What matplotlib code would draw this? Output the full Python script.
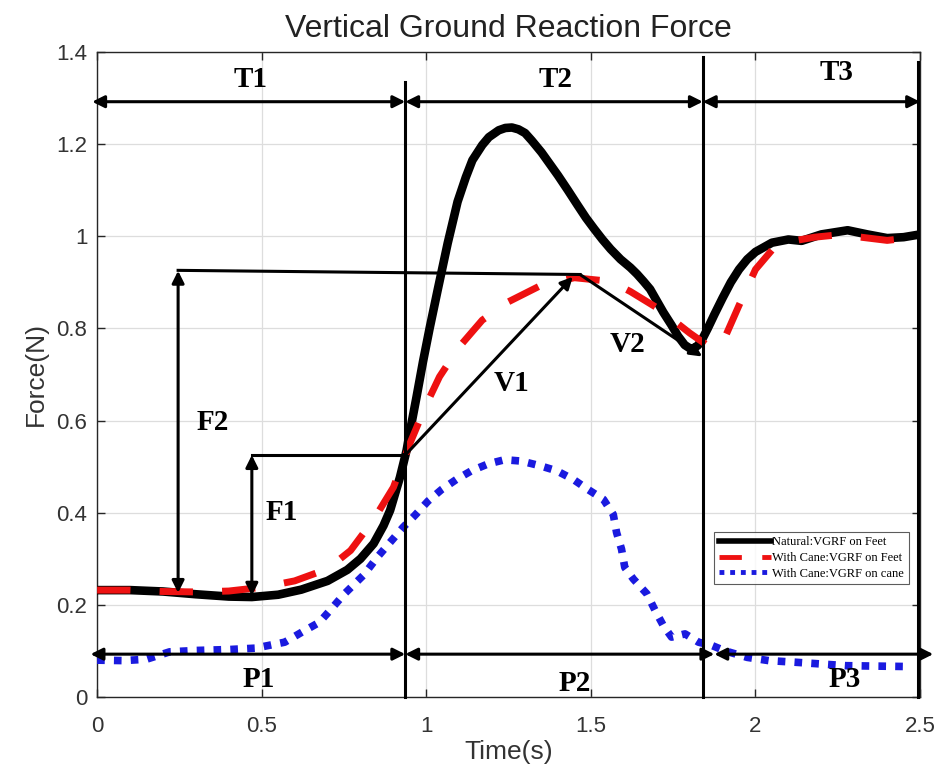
import matplotlib
matplotlib.use("Agg")
import matplotlib.pyplot as plt
from matplotlib.lines import Line2D

# ---------------- data ----------------
t_nat = [0.00, 0.10, 0.20, 0.30, 0.40, 0.47, 0.55, 0.62, 0.70, 0.76, 0.80, 0.84,
         0.87, 0.89, 0.92, 0.94, 0.95, 0.97, 0.99, 1.01, 1.035, 1.065, 1.095, 1.12,
         1.14, 1.17, 1.19, 1.22, 1.24, 1.26, 1.28, 1.30, 1.32, 1.35, 1.375, 1.40,
         1.43, 1.46, 1.485, 1.51, 1.535, 1.56, 1.59, 1.62, 1.64, 1.66, 1.68, 1.70,
         1.72, 1.745, 1.765, 1.785, 1.80, 1.81, 1.825, 1.84, 1.855, 1.875, 1.90, 1.925,
         1.95, 1.975, 2.00, 2.05, 2.10, 2.14, 2.20, 2.28, 2.34, 2.40, 2.45, 2.50]
f_nat = [0.232, 0.232, 0.229, 0.223, 0.218, 0.217, 0.222, 0.233, 0.252, 0.276, 0.300, 0.333,
         0.372, 0.405, 0.477, 0.535, 0.575, 0.650, 0.728, 0.800, 0.885, 0.985, 1.075, 1.128,
         1.165, 1.198, 1.215, 1.230, 1.235, 1.236, 1.232, 1.224, 1.208, 1.182, 1.157, 1.132,
         1.100, 1.067, 1.040, 1.016, 0.993, 0.972, 0.950, 0.932, 0.918, 0.902, 0.885, 0.860,
         0.835, 0.807, 0.783, 0.764, 0.757, 0.756, 0.763, 0.779, 0.800, 0.830, 0.866, 0.900,
         0.928, 0.950, 0.966, 0.986, 0.993, 0.990, 1.004, 1.013, 1.004, 0.996, 0.998, 1.004]

t_cane_feet = [0.00, 0.10, 0.20, 0.30, 0.40, 0.50, 0.60, 0.70, 0.77, 0.84, 0.90, 0.95,
               1.00, 1.04, 1.10, 1.17, 1.25, 1.35, 1.45, 1.56, 1.62, 1.70, 1.75, 1.80,
               1.85, 1.88, 1.91, 1.95, 2.00, 2.05, 2.10, 2.18, 2.25, 2.32, 2.40, 2.45, 2.50]
f_cane_feet = [0.232, 0.232, 0.229, 0.228, 0.230, 0.238, 0.252, 0.278, 0.318, 0.385, 0.455, 0.550,
               0.635, 0.695, 0.760, 0.818, 0.858, 0.894, 0.910, 0.902, 0.880, 0.845, 0.818, 0.790,
               0.765, 0.757, 0.785, 0.850, 0.928, 0.970, 0.988, 0.998, 1.003, 0.998, 0.991, 0.995, 1.000]

t_cane = [0.00, 0.08, 0.15, 0.22, 0.30, 0.40, 0.48, 0.57, 0.625, 0.675, 0.71, 0.75,
          0.81, 0.853, 0.894, 0.929, 0.965, 1.005, 1.046, 1.091, 1.137, 1.188, 1.238, 1.289,
          1.345, 1.396, 1.447, 1.492, 1.538, 1.568, 1.578, 1.593, 1.603, 1.629, 1.670, 1.695,
          1.720, 1.745, 1.786, 1.827, 1.867, 1.908, 1.975, 2.04, 2.11, 2.275, 2.475]
f_cane = [0.080, 0.079, 0.082, 0.098, 0.101, 0.103, 0.106, 0.119, 0.142, 0.162, 0.190, 0.223,
          0.265, 0.305, 0.339, 0.368, 0.394, 0.425, 0.450, 0.472, 0.491, 0.506, 0.515, 0.512,
          0.502, 0.491, 0.472, 0.450, 0.429, 0.396, 0.357, 0.321, 0.281, 0.256, 0.224, 0.188,
          0.155, 0.130, 0.137, 0.119, 0.112, 0.100, 0.086, 0.079, 0.076, 0.068, 0.066]

series_labels = ["Natural:VGRF on Feet", "With Cane:VGRF on Feet", "With Cane:VGRF on cane"]

# phase boundaries (s)
t_bounds = [0.936, 1.84, 2.50]
p_bounds = [0.936, 1.875, 2.54]
phase_top = ["T1", "T2", "T3"]
phase_bottom = ["P1", "P2", "P3"]
annot_labels = ["F1", "F2", "V1", "V2"]

# ---------------- figure ----------------
fig = plt.figure(figsize=(9.43, 7.8), dpi=100)
ax = fig.add_axes([0.103, 0.1064, 0.8727, 0.827])

sans = ["Liberation Sans", "DejaVu Sans"]
serif = ["Liberation Serif", "DejaVu Serif"]

ax.plot(t_nat, f_nat, color="black", lw=6.2, solid_capstyle="round",
        solid_joinstyle="round", zorder=3)
ax.plot(t_cane_feet, f_cane_feet, color="#ee1111", lw=5,
        linestyle=(0, (4.8, 4.2)), dash_joinstyle="round", zorder=4)
ax.plot(t_cane, f_cane, color="#1a1adf", lw=5.5,
        linestyle=(0, (1.0, 1.2)), dash_joinstyle="round", zorder=4)

ax.set_xlim(0, 2.5)
ax.set_ylim(0, 1.4)
ax.set_xticks([0, 0.5, 1, 1.5, 2, 2.5])
ax.set_xticklabels(["0", "0.5", "1", "1.5", "2", "2.5"])
ax.set_yticks([0, 0.2, 0.4, 0.6, 0.8, 1.0, 1.2, 1.4])
ax.set_yticklabels(["0", "0.2", "0.4", "0.6", "0.8", "1", "1.2", "1.4"])
ax.grid(True, color="#dddddd", lw=0.9, zorder=0)
ax.set_axisbelow(True)
ax.tick_params(direction="in", length=6, width=1, top=True, right=True,
               colors="#262626", labelsize=16)
ax.tick_params(axis="x", pad=14)
ax.tick_params(axis="y", pad=7)
for lab in ax.get_xticklabels() + ax.get_yticklabels():
    lab.set_family(sans)
    lab.set_color("#333333")
for s in ax.spines.values():
    s.set_color("#262626")
    s.set_linewidth(1.0)

ax.set_xlabel("Time(s)", fontsize=19, family=sans, color="#333333", labelpad=2)
ax.set_ylabel("Force(N)", fontsize=19, family=sans, color="#333333", labelpad=6)
ax.set_title("Vertical Ground Reaction Force", fontsize=23, family=sans,
             color="#222222", pad=11)

# ---------------- annotations ----------------
akw = dict(arrowstyle="<|-|>", color="black", lw=2.2, mutation_scale=18,
           shrinkA=0, shrinkB=0)
one = dict(arrowstyle="-|>", color="black", lw=2.2, mutation_scale=18,
           shrinkA=0, shrinkB=0)
lkw = dict(color="black", lw=2.2, clip_on=False, zorder=6)
tkw = dict(fontsize=21, fontweight="bold", family=serif, ha="center",
           va="center", zorder=7)

# vertical boundary lines
ax.plot([t_bounds[0], t_bounds[0]], [0, 1.335], **lkw)
ax.plot([t_bounds[1], t_bounds[1]], [0, 1.388], **lkw)
ax.plot([t_bounds[2] - 0.005, t_bounds[2] - 0.005], [0, 1.378], **lkw)

# top double arrows (T1, T2, T3)
tops = [-0.015, t_bounds[0], t_bounds[1], t_bounds[2]]
for i in range(3):
    ax.annotate("", xy=(tops[i + 1], 1.292), xytext=(tops[i], 1.292),
                arrowprops=akw, annotation_clip=False, zorder=6)
ax.text(0.465, 1.34, phase_top[0], **tkw)
ax.text(1.394, 1.34, phase_top[1], **tkw)
ax.text(2.245, 1.355, phase_top[2], **tkw)

# bottom double arrows (P1, P2, P3)
bots = [-0.02, p_bounds[0], p_bounds[1], p_bounds[2]]
for i in range(3):
    ax.annotate("", xy=(bots[i + 1], 0.093), xytext=(bots[i], 0.093),
                arrowprops=akw, annotation_clip=False, zorder=6)
ax.text(0.49, 0.037, phase_bottom[0], **tkw)
ax.text(1.452, 0.030, phase_bottom[1], **tkw)
ax.text(2.27, 0.037, phase_bottom[2], **tkw)

# F2
ax.annotate("", xy=(0.246, 0.925), xytext=(0.246, 0.226), arrowprops=akw, zorder=6)
ax.plot([0.246, 1.467], [0.926, 0.917], **lkw)
ax.text(0.35, 0.595, annot_labels[1], **tkw)
# F1
ax.annotate("", xy=(0.47, 0.525), xytext=(0.47, 0.22), arrowprops=akw, zorder=6)
ax.plot([0.47, 0.936], [0.525, 0.525], **lkw)
ax.text(0.56, 0.40, annot_labels[0], **tkw)
# V1
ax.annotate("", xy=(1.445, 0.912), xytext=(0.936, 0.525), arrowprops=one, zorder=6)
ax.text(1.26, 0.68, annot_labels[2], **tkw)
# V2
ax.annotate("", xy=(1.838, 0.739), xytext=(1.467, 0.917), arrowprops=one, zorder=6)
ax.text(1.61, 0.765, annot_labels[3], **tkw)

# ---------------- legend ----------------
handles = [
    Line2D([], [], color="black", lw=4),
    Line2D([], [], color="#ee1111", lw=3.5, linestyle=(0, (4.6, 4.2))),
    Line2D([], [], color="#1a1adf", lw=3.5, linestyle=(0, (1.0, 1.2))),
]
leg = ax.legend(handles, series_labels, loc="upper right",
                bbox_to_anchor=(0.986, 0.256), prop={"family": serif, "size": 9},
                frameon=True, fancybox=False, edgecolor="#333333",
                handlelength=4.2, handletextpad=0.1, borderpad=0.35,
                labelspacing=0.3, borderaxespad=0)
leg.get_frame().set_linewidth(0.8)
leg.set_zorder(8)

fig.savefig("out.png", dpi=100)
